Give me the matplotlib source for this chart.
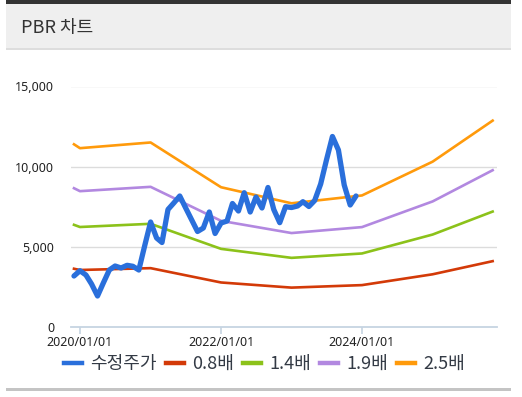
import matplotlib
matplotlib.use("Agg")
import matplotlib.pyplot as plt
import pandas as pd
from matplotlib.lines import Line2D
from matplotlib.patches import Rectangle

# ---- data ----
price_dates = pd.date_range("2019-12-01", "2023-12-01", freq="MS")
price = [3196, 3526, 3258, 2697, 1950, 2760, 3569, 3818, 3694, 3862, 3800, 3569,
         5064, 6559, 5563, 5282, 7338, 7743, 8179, 7450, 6709, 5968, 6185, 7182,
         5843, 6497, 6621, 7712, 7244, 8384, 7182, 8117, 7431, 8708, 7338, 6516,
         7512, 7462, 7556, 7824, 7525, 7898, 8926, 10421, 11885, 11044, 8864, 7618,
         8179]

band_dates = pd.to_datetime(["2019-12-01", "2020-01-01", "2021-01-01", "2022-01-01",
                             "2023-01-01", "2024-01-01", "2025-01-01", "2025-11-08"])
band_08 = [3648, 3570, 3684, 2792, 2472, 2628, 3302, 4120]
band_14 = [6384, 6248, 6447, 4886, 4326, 4599, 5778, 7210]
band_19 = [8664, 8480, 8750, 6631, 5871, 6242, 7841, 9785]
band_25 = [11400, 11158, 11513, 8725, 7725, 8213, 10318, 12875]

series_labels = ["수정주가", "0.8배", "1.4배", "1.9배", "2.5배"]
colors = ["#2a6fdb", "#d33a08", "#8cc21a", "#b288e0", "#ff9a0b"]
yticks = [0, 5000, 10000, 15000]
ytick_labels = ["0", "5,000", "10,000", "15,000"]
xtick_dates = pd.to_datetime(["2020-01-01", "2022-01-01", "2024-01-01"])
xtick_labels = ["2020/01/01", "2022/01/01", "2024/01/01"]

cjk = ["Noto Sans CJK KR", "DejaVu Sans"]
latin = ["Noto Sans", "DejaVu Sans"]

fig = plt.figure(figsize=(5.22, 3.97), dpi=100)
W, H = 522, 397

def fx(x): return x / W
def fy(y): return 1 - y / H

# header
fig.patches.append(Rectangle((fx(6), fy(4)), fx(505), 4 / H, transform=fig.transFigure,
                             facecolor="#333333", edgecolor="none"))
fig.patches.append(Rectangle((fx(6), fy(48)), fx(505), 44 / H, transform=fig.transFigure,
                             facecolor="#efefef", edgecolor="none"))
fig.patches.append(Rectangle((fx(6), fy(49.5)), fx(505), 1.5 / H, transform=fig.transFigure,
                             facecolor="#dddddd", edgecolor="none"))
fig.text(fx(21), fy(27.5), "PBR 차트", family=cjk, fontsize=13, color="#333333",
         va="center", ha="left", weight="light")
# bottom rule
fig.patches.append(Rectangle((fx(6), fy(391)), fx(505), 3 / H, transform=fig.transFigure,
                             facecolor="#c4c4c4", edgecolor="none"))

ax = fig.add_axes([fx(70.7), fy(327.3), fx(496.7 - 70.7), (327.3 - 86.5) / H])
ax.set_facecolor("none")
for s in ax.spines.values():
    s.set_visible(False)

ax.set_ylim(0, 15000)
ax.set_xlim(pd.Timestamp("2019-11-14"), pd.Timestamp("2025-11-29"))
for v in yticks[1:]:
    ax.axhline(v, color="#dcdcdc", lw=1.0, zorder=0)
ax.axhline(0, color="#c6d4e2", lw=1.3, zorder=1, clip_on=False)

for vals, c in zip([band_08, band_14, band_19, band_25], colors[1:]):
    ax.plot(band_dates, vals, color=c, lw=1.9, solid_joinstyle="round", zorder=2)
ax.plot(price_dates, price, color=colors[0], lw=3.8, solid_joinstyle="round",
        solid_capstyle="round", zorder=3)

ax.set_yticks(yticks)
ax.set_yticklabels(ytick_labels, family=latin, fontsize=9, color="#222222")
ax.tick_params(axis="y", length=0, pad=12)
ax.set_xticks(xtick_dates)
ax.set_xticklabels(xtick_labels, family=latin, fontsize=9, color="#222222")
ax.tick_params(axis="x", length=5, width=1.2, color="#c6d4e2", pad=1)

handles = [Line2D([0], [0], color=c, lw=3.2) for c in colors]
leg = fig.legend(handles, series_labels, loc="center", bbox_to_anchor=(fx(264.5), fy(364)),
                 ncol=5, frameon=False, prop={"family": cjk, "size": 13},
                 handlelength=1.0, handletextpad=0.45, columnspacing=0.5,
                 labelcolor="#333a45", borderpad=0, borderaxespad=0)

fig.savefig("out.png", dpi=100)
